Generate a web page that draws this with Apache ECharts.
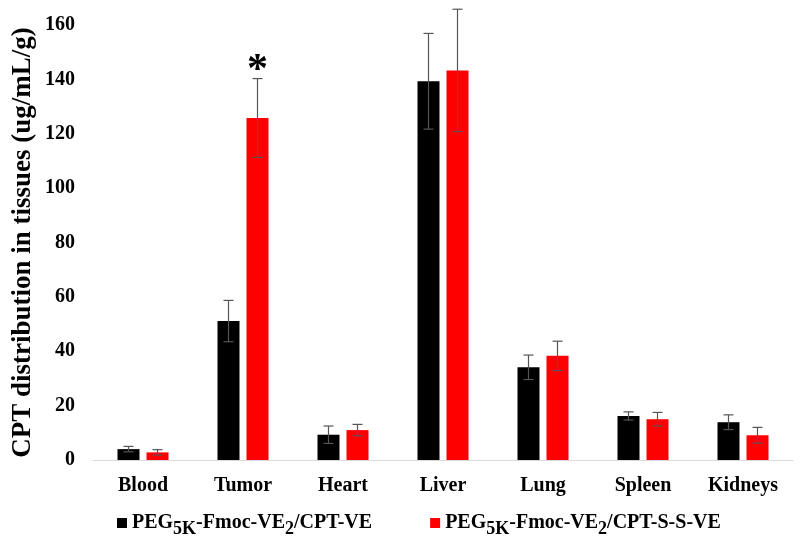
<!DOCTYPE html>
<html>
<head>
<meta charset="utf-8">
<script src="https://cdn.jsdelivr.net/npm/echarts@6/dist/echarts.min.js"></script>
<style>html,body{margin:0;padding:0;background:#fff}#c{width:800px;height:545px}</style>
</head>
<body>
<div id="c"></div>
<script>
const categories = ['Blood', 'Tumor', 'Heart', 'Liver', 'Lung', 'Spleen', 'Kidneys'];
const seriesNames = ['PEG5K-Fmoc-VE2/CPT-VE', 'PEG5K-Fmoc-VE2/CPT-S-S-VE'];
const valuesVE = [4.0, 51.1, 9.3, 139.3, 34.1, 16.2, 13.9];
const errorsVE = [1.0, 7.6, 3.2, 17.6, 4.5, 1.5, 2.7];
const valuesSSVE = [2.8, 125.8, 11.0, 143.3, 38.3, 15.0, 9.1];
const errorsSSVE = [1.0, 14.5, 2.1, 22.5, 5.4, 2.5, 2.9];
const annotations = ['', '*', '', '', '', '', ''];
const yTicks = { min: 0, max: 160, interval: 20 };

const font = '"Liberation Serif", "Times New Roman", serif';
const barWidth = 22;
const barGapPx = 7;
const offset = barWidth / 2 + barGapPx / 2;

function errorSeries(values, errors, dir, withNote) {
  return {
    type: 'custom',
    z: 10,
    silent: true,
    data: values.map((v, i) => [i, v, errors[i]]),
    renderItem: function (params, api) {
      const idx = api.value(0);
      const v = api.value(1);
      const e = api.value(2);
      const top = api.coord([idx, v + e]);
      const bot = api.coord([idx, v - e]);
      const x = top[0] + dir * offset;
      const cap = 5;
      const style = { stroke: '#555', lineWidth: 1.2 };
      const children = [
        { type: 'line', shape: { x1: x, y1: top[1], x2: x, y2: bot[1] }, style },
        { type: 'line', shape: { x1: x - cap, y1: top[1], x2: x + cap, y2: top[1] }, style },
        { type: 'line', shape: { x1: x - cap, y1: bot[1], x2: x + cap, y2: bot[1] }, style }
      ];
      if (withNote && annotations[idx]) {
        children.push({
          type: 'text',
          style: {
            text: annotations[idx], x: x, y: top[1] + 14,
            align: 'center', verticalAlign: 'bottom',
            font: 'bold 42px ' + font, fill: '#000'
          }
        });
      }
      return { type: 'group', children };
    }
  };
}

const chart = echarts.init(document.getElementById('c'));
chart.setOption({
  animation: false,
  backgroundColor: '#fff',
  grid: { left: 93, top: 25, width: 700, height: 435, containLabel: false, outerBoundsMode: 'none' },
  legend: {
    left: 112, top: 508,
    itemWidth: 10, itemHeight: 10, itemGap: 58,
    icon: 'rect',
    data: seriesNames,
    textStyle: {
      fontFamily: font, fontWeight: 'bold', fontSize: 20, color: '#000',
      rich: {
        s: { fontFamily: font, fontWeight: 'bold', fontSize: 18, color: '#000', padding: [12, 0, 0, 0] }
      }
    },
    formatter: function (name) {
      return name.replace('PEG5K', 'PEG{s|5K}').replace('VE2/', 'VE{s|2}/');
    }
  },
  xAxis: {
    type: 'category',
    data: categories,
    axisLine: { lineStyle: { color: '#d9d9d9', width: 1 } },
    axisTick: { show: false },
    axisLabel: { fontFamily: font, fontWeight: 'bold', fontSize: 20, color: '#000', margin: 16 }
  },
  yAxis: {
    type: 'value',
    min: yTicks.min, max: yTicks.max, interval: yTicks.interval,
    name: 'CPT distribution in tissues (ug/mL/g)',
    nameLocation: 'middle',
    nameGap: 56,
    nameMoveOverlap: false,
    nameTextStyle: { fontFamily: font, fontWeight: 'bold', fontSize: 27, color: '#000' },
    axisLine: { show: false },
    axisTick: { show: false },
    splitLine: { show: false },
    axisLabel: { fontFamily: font, fontWeight: 'bold', fontSize: 20, color: '#000', margin: 18 }
  },
  series: [
    { name: seriesNames[0], type: 'bar', data: valuesVE, barWidth: barWidth, barGap: (barGapPx / barWidth * 100) + '%', itemStyle: { color: '#000000' } },
    { name: seriesNames[1], type: 'bar', data: valuesSSVE, barWidth: barWidth, itemStyle: { color: '#ff0000' } },
    errorSeries(valuesVE, errorsVE, -1, false),
    errorSeries(valuesSSVE, errorsSSVE, 1, true)
  ]
});
</script>
</body>
</html>
